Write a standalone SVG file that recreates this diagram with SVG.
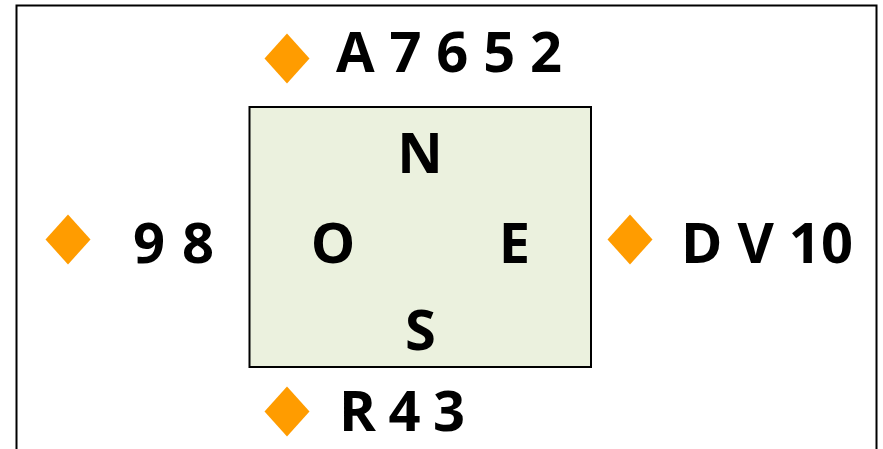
<svg xmlns="http://www.w3.org/2000/svg" width="883" height="449" viewBox="0 0 883 449">
<style>
.t{font-family:"Open Sans","Noto Sans","Liberation Sans",sans-serif;font-weight:bold;font-size:56px;fill:#000}
.c{text-anchor:middle}
.d{fill:#FF9C00}
</style>
<defs>
<polygon id="dm" points="0,-25 22.5,0 0,25 -22.5,0"/>
</defs>
<rect x="0" y="0" width="883" height="449" fill="#fff"/>
<rect id="frame" x="16.5" y="5.5" width="860" height="460" fill="none" stroke="#000" stroke-width="2"/>
<g id="connectors"></g>
<g id="box">
<rect x="249.5" y="107" width="341.5" height="260" fill="#EBF1DE" stroke="#000" stroke-width="2"/>
<text class="t c" x="420" y="173">N</text>
<text class="t c" x="333" y="263">O</text>
<text class="t c" x="514.5" y="263">E</text>
<text class="t c" x="420.5" y="350">S</text>
</g>
<g id="north">
<use href="#dm" class="d" x="287" y="58.5"/>
<text class="t" x="336" y="72" textLength="226" lengthAdjust="spacing">A 7 6 5 2</text>
</g>
<g id="west">
<use href="#dm" class="d" x="68" y="239.5"/>
<text class="t" x="133" y="263" textLength="81" lengthAdjust="spacing">9 8</text>
</g>
<g id="east">
<use href="#dm" class="d" x="630" y="239.5"/>
<text class="t" x="681" y="263" textLength="172" lengthAdjust="spacing">D V 10</text>
</g>
<g id="south">
<use href="#dm" class="d" x="287" y="411.5"/>
<text class="t" x="339" y="431" textLength="126" lengthAdjust="spacing">R 4 3</text>
</g>
</svg>
